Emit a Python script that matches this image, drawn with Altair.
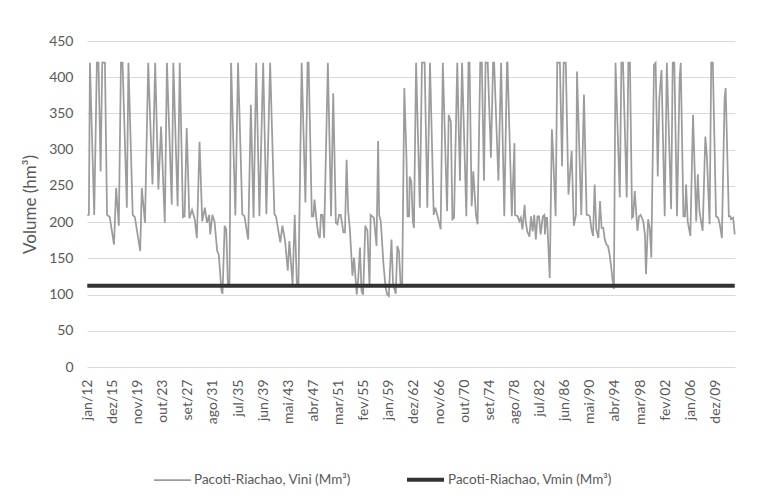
import altair as alt
import pandas as pd

# Months since jan/1912 (vertices of the monthly series)
vini_month = [
    0, 3, 5, 13, 18, 21, 25, 28, 33, 37, 42, 50, 54, 59, 63, 66, 74, 77, 85, 89, 99, 102, 108, 114, 122, 127, 133, 138, 145, 149, 158, 161, 169,
    173, 179, 182, 186, 191, 196, 201, 205, 210, 215, 220, 224, 228, 230, 234, 238, 243, 246, 251, 253, 257, 260, 263, 266, 269, 277, 282, 290, 294, 301, 306, 311, 316, 322, 329, 335, 342,
    350, 353, 361, 365, 370, 375, 378, 384, 388, 392, 395, 401, 408, 412, 414, 420, 423, 425, 429, 432, 435, 437, 440, 443, 450, 456, 460, 465, 468, 471, 474, 476, 479, 482, 485, 488, 491, 494, 496, 499, 504, 507, 510, 513, 516, 520,
    524, 528, 530, 533, 536, 539, 541, 544, 546, 549, 554, 558, 561, 564, 567, 569, 572, 577, 580, 583, 586, 589, 593, 597, 599, 602, 603, 606, 609, 611, 615, 622, 626, 631, 636, 641, 648, 651, 656, 661, 665, 673, 676, 680, 683, 686, 692,
    697, 701, 709, 713, 715, 719, 722, 727, 730, 735, 738, 742, 745, 749, 755, 759, 761, 769, 774, 780, 785, 786, 794, 799, 800, 805, 808, 811, 814, 818, 820, 823, 827, 830, 833, 836, 839, 842, 845, 848, 852, 855, 856, 858, 860, 865,
    869, 871, 876, 879, 884, 888, 891, 895, 900, 906, 910, 914, 916, 924, 929, 934, 937, 940, 943, 946, 949, 952, 956, 959, 962, 965, 968, 971, 974, 977, 980, 984, 985, 988, 996, 999, 1002, 1009, 1012, 1015, 1019, 1021, 1024, 1029, 1032, 1035, 1040,
    1043, 1045, 1049, 1052, 1055, 1060, 1063, 1067, 1070, 1074, 1080, 1084, 1092, 1095, 1098, 1103, 1108, 1110, 1115, 1118, 1120, 1123, 1128, 1133, 1139, 1142, 1145, 1148, 1151, 1156, 1159, 1164, 1167, 1170, 1176, 1180, 1183, 1187, 1192, 1194, 1200, 1203, 1204, 1208, 1211,
]
vini_value = [
    210, 210, 420, 210, 420, 420, 270, 420, 420, 210, 207, 169, 247, 195, 420, 420, 220, 420, 210, 207, 160, 247, 199, 420, 252, 420, 245, 332, 199, 420, 224, 420, 222,
    420, 207, 208, 330, 205, 217, 204, 178, 311, 201, 220, 199, 210, 183, 210, 201, 160, 155, 105, 101, 195, 190, 114, 114, 420, 209, 420, 211, 208, 176, 362, 206, 420, 208, 420, 211, 420,
    211, 208, 172, 195, 174, 133, 174, 114, 210, 114, 114, 420, 227, 420, 420, 208, 208, 231, 201, 183, 178, 210, 210, 178, 420, 208, 378, 199, 197, 210, 210, 201, 186, 186, 286, 215, 192, 153, 126, 151, 100, 124, 165, 105, 100, 195,
    188, 110, 210, 208, 206, 183, 167, 312, 210, 201, 142, 110, 100, 98, 146, 176, 114, 101, 167, 160, 114, 112, 385, 290, 208, 208, 263, 256, 201, 192, 420, 220, 420, 420, 220, 420, 210, 220, 206, 190, 420, 215, 348, 339, 204, 206, 420,
    257, 420, 208, 420, 420, 222, 270, 210, 197, 420, 420, 257, 420, 420, 289, 420, 420, 257, 420, 208, 420, 420, 208, 309, 210, 208, 201, 206, 190, 224, 201, 187, 180, 208, 187, 210, 176, 208, 208, 183, 208, 210, 183, 206, 206, 123,
    328, 300, 208, 420, 420, 277, 420, 420, 238, 298, 195, 210, 408, 210, 376, 210, 210, 208, 190, 181, 252, 190, 178, 229, 192, 192, 176, 169, 167, 155, 137, 110, 108, 420, 234, 420, 420, 234, 420, 420, 206, 208, 243, 188, 208, 210, 201,
    183, 128, 204, 192, 151, 417, 420, 263, 371, 410, 208, 420, 218, 420, 420, 208, 399, 420, 208, 208, 252, 201, 181, 348, 201, 266, 215, 201, 188, 318, 290, 197, 420, 420, 208, 206, 197, 178, 371, 385, 208, 208, 204, 206, 183,
]
vmin_value = 112
first_month, last_month = 0, 1211

series_names = ["Pacoti-Riachao, Vini (Mm³)", "Pacoti-Riachao, Vmin (Mm³)"]
tick_labels = ["jan/12", "dez/15", "nov/19", "out/23", "set/27", "ago/31", "jul/35", "jun/39",
               "mai/43", "abr/47", "mar/51", "fev/55", "jan/59", "dez/62", "nov/66", "out/70",
               "set/74", "ago/78", "jul/82", "jun/86", "mai/90", "abr/94", "mar/98", "fev/02",
               "jan/06", "dez/09"]
tick_step = 47
y_ticks = [0, 50, 100, 150, 200, 250, 300, 350, 400, 450]

df = pd.concat([
    pd.DataFrame({"m": vini_month, "v": vini_value, "series": series_names[0]}),
    pd.DataFrame({"m": [first_month, last_month], "v": [vmin_value, vmin_value], "series": series_names[1]}),
], ignore_index=True)

label_expr = "[" + ",".join("'" + t + "'" for t in tick_labels) + "][round(datum.value/%d)]" % tick_step

FONT = "Lato"
TXT = "#595959"

legend = alt.Legend(
    title=None, orient="none", legendX=66, legendY=418, direction="horizontal",
    symbolType="stroke", symbolSize=1369, labelFontSize=13.5, labelColor=TXT, labelFont=FONT,
    columnPadding=48, labelOffset=2, padding=0, labelLimit=400,
)

chart = alt.Chart(df).mark_line(strokeCap="butt", strokeJoin="miter").encode(
    x=alt.X("m:Q", scale=alt.Scale(domain=[-0.5, 1211.5], nice=False, zero=False),
            axis=alt.Axis(values=[i * tick_step for i in range(len(tick_labels))], labelExpr=label_expr,
                          labelAngle=270, labelAlign="right", labelBaseline="middle",
                          labelPadding=12, ticks=False, domain=False, grid=False, title=None,
                          labelFontSize=14, labelColor=TXT, labelFont=FONT, labelOverlap=False)),
    y=alt.Y("v:Q", scale=alt.Scale(domain=[0, 450], nice=False),
            axis=alt.Axis(values=y_ticks, ticks=False, domain=False, grid=True, gridColor="#d9d9d9",
                          labelPadding=14, labelFontSize=14, labelColor=TXT, labelFont=FONT,
                          title="Volume (hm³)", titleFontSize=17, titleColor=TXT, titleFont=FONT,
                          titleFontWeight="normal", titleAngle=270, titleX=-57, titleY=163,
                          titleAlign="center", titleBaseline="middle")),
    color=alt.Color("series:N", scale=alt.Scale(domain=series_names, range=["#9c9c9c", "#333333"]), legend=legend),
    strokeWidth=alt.StrokeWidth("series:N", scale=alt.Scale(domain=series_names, range=[1.75, 4]), legend=legend),
).properties(
    width=648, height=326,
    autosize=alt.AutoSizeParams(type="none"),
    padding={"left": 79, "top": 33, "right": 22, "bottom": 122},
).configure_view(stroke="transparent")

chart.save("out.html", embed_options={"renderer": "svg", "actions": False})
